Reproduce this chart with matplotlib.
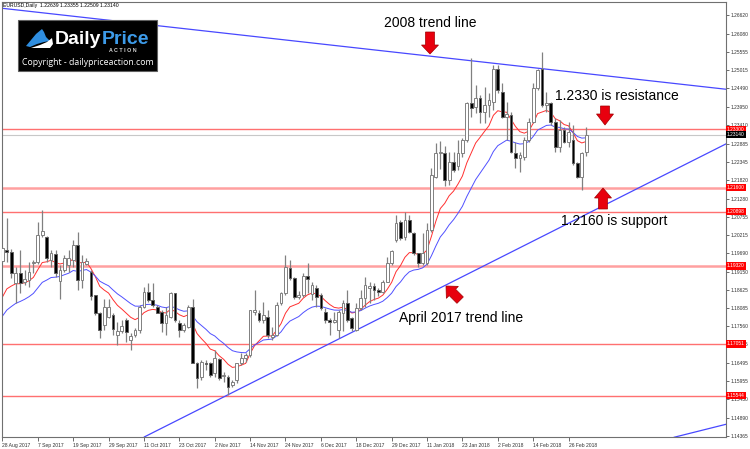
import numpy as np
import matplotlib.pyplot as plt
import matplotlib.transforms as mtrans
from matplotlib.patches import Polygon, Rectangle

# EURUSD daily, 28 Aug 2017 .. 2 Mar 2018 (one entry per bar)
opens = [1.1947, 1.1978, 1.1972, 1.1881, 1.1910, 1.1884, 1.1891, 1.1941, 1.1944, 1.2022,
         1.2017, 1.1949, 1.1966, 1.1889, 1.1920, 1.1935, 1.1949, 1.1993, 1.1891, 1.1939,
         1.1915, 1.1847, 1.1794, 1.1760, 1.1784, 1.1789, 1.1730, 1.1743, 1.1774, 1.1716,
         1.1731, 1.1745, 1.1813, 1.1857, 1.1833, 1.1813, 1.1799, 1.1765, 1.1784, 1.1852,
         1.1765, 1.1745, 1.1755, 1.1813, 1.1648, 1.1609, 1.1650, 1.1648, 1.1619, 1.1660,
         1.1611, 1.1609, 1.1585, 1.1600, 1.1648, 1.1663, 1.1672, 1.1799, 1.1794, 1.1774,
         1.1784, 1.1724, 1.1731, 1.1823, 1.1852, 1.1925, 1.1896, 1.1842, 1.1846, 1.1904,
         1.1850, 1.1867, 1.1847, 1.1799, 1.1774, 1.1770, 1.1745, 1.1794, 1.1823, 1.1779,
         1.1745, 1.1808, 1.1838, 1.1867, 1.1874, 1.1862, 1.1857, 1.1886, 1.1940, 1.2008,
         1.2061, 1.2017, 1.2066, 1.2027, 1.1969, 1.1940, 1.1940, 1.2037, 1.2192, 1.2262,
         1.2260, 1.2182, 1.2236, 1.2222, 1.2260, 1.2299, 1.2406, 1.2396, 1.2420, 1.2381,
         1.2401, 1.2410, 1.2507, 1.2440, 1.2367, 1.2372, 1.2260, 1.2245, 1.2250, 1.2299,
         1.2352, 1.2449, 1.2507, 1.2401, 1.2406, 1.2352, 1.2279, 1.2328, 1.2294, 1.2299,
         1.2231, 1.2192, 1.22639]
highs = [1.1988, 1.2071, 1.1981, 1.1930, 1.1978, 1.1920, 1.1944, 1.1949, 1.2061, 1.2095,
         1.2020, 1.1978, 1.1978, 1.1935, 1.1964, 1.1978, 1.2007, 1.2032, 1.1964, 1.1954,
         1.1920, 1.1847, 1.1799, 1.1837, 1.1837, 1.1794, 1.1770, 1.1774, 1.1779, 1.1736,
         1.1750, 1.1818, 1.1872, 1.1881, 1.1881, 1.1818, 1.1804, 1.1813, 1.1857, 1.1852,
         1.1774, 1.1765, 1.1818, 1.1837, 1.1653, 1.1658, 1.1658, 1.1653, 1.1687, 1.1663,
         1.1624, 1.1614, 1.1600, 1.1648, 1.1677, 1.1677, 1.1804, 1.1862, 1.1804, 1.1828,
         1.1804, 1.1755, 1.1828, 1.1857, 1.1964, 1.1949, 1.1901, 1.1860, 1.1910, 1.1940,
         1.1886, 1.1876, 1.1852, 1.1808, 1.1779, 1.1799, 1.1804, 1.1833, 1.1862, 1.1784,
         1.1823, 1.1862, 1.1901, 1.1886, 1.1881, 1.1867, 1.1891, 1.1959, 1.1979, 1.2080,
         1.2066, 1.2090, 1.2080, 1.2032, 1.1969, 1.2027, 1.2056, 1.2216, 1.2289, 1.2296,
         1.2282, 1.2265, 1.2265, 1.2299, 1.2304, 1.2410, 1.2537, 1.2459, 1.2430, 1.2454,
         1.2435, 1.2517, 1.2517, 1.2464, 1.2410, 1.2381, 1.2294, 1.2265, 1.2308, 1.2362,
         1.2464, 1.2507, 1.2556, 1.2440, 1.2410, 1.2362, 1.2357, 1.2338, 1.2352, 1.2342,
         1.2236, 1.2265, 1.23355]
lows = [1.1942, 1.1944, 1.1896, 1.1823, 1.1852, 1.1876, 1.1871, 1.1910, 1.1939, 1.2017,
        1.1944, 1.1930, 1.1901, 1.1837, 1.1915, 1.1915, 1.1930, 1.1862, 1.1867, 1.1935,
        1.1833, 1.1789, 1.1721, 1.1745, 1.1779, 1.1731, 1.1702, 1.1736, 1.1711, 1.1687,
        1.1726, 1.1736, 1.1808, 1.1828, 1.1813, 1.1794, 1.1740, 1.1731, 1.1779, 1.1770,
        1.1726, 1.1740, 1.1750, 1.1648, 1.1575, 1.1600, 1.1629, 1.1609, 1.1609, 1.1600,
        1.1595, 1.1556, 1.1580, 1.1590, 1.1643, 1.1653, 1.1667, 1.1789, 1.1770, 1.1765,
        1.1721, 1.1716, 1.1728, 1.1818, 1.1847, 1.1891, 1.1837, 1.1835, 1.1840, 1.1852,
        1.1833, 1.1813, 1.1804, 1.1765, 1.1731, 1.1765, 1.1721, 1.1741, 1.1770, 1.1741,
        1.1741, 1.1804, 1.1813, 1.1823, 1.1833, 1.1845, 1.1852, 1.1886, 1.1935, 1.2003,
        1.2008, 1.2008, 1.2027, 1.1964, 1.1930, 1.1935, 1.1935, 1.2032, 1.2187, 1.2213,
        1.2166, 1.2168, 1.2206, 1.2211, 1.2250, 1.2294, 1.2367, 1.2376, 1.2347, 1.2347,
        1.2367, 1.2386, 1.2435, 1.2362, 1.2299, 1.2260, 1.2216, 1.2206, 1.2240, 1.2294,
        1.2347, 1.2444, 1.2396, 1.2381, 1.2342, 1.2265, 1.2265, 1.2289, 1.2279, 1.2226,
        1.2187, 1.2153, 1.22509]
closes = [1.1983, 1.1972, 1.1910, 1.1910, 1.1881, 1.1894, 1.1915, 1.1944, 1.2022, 1.2035,
          1.1954, 1.1969, 1.1910, 1.1920, 1.1954, 1.1954, 1.1993, 1.1891, 1.1944, 1.1947,
          1.1844, 1.1794, 1.1745, 1.1813, 1.1813, 1.1747, 1.1743, 1.1757, 1.1740, 1.1729,
          1.1745, 1.1813, 1.1857, 1.1833, 1.1818, 1.1794, 1.1765, 1.1789, 1.1852, 1.1774,
          1.1745, 1.1760, 1.1813, 1.1648, 1.1605, 1.1653, 1.1646, 1.1614, 1.1663, 1.1605,
          1.1614, 1.1580, 1.1595, 1.1648, 1.1663, 1.1672, 1.1804, 1.1804, 1.1774, 1.1789,
          1.1731, 1.1731, 1.1818, 1.1852, 1.1930, 1.1896, 1.1842, 1.1846, 1.1904, 1.1893,
          1.1876, 1.1842, 1.1808, 1.1774, 1.1770, 1.1774, 1.1799, 1.1823, 1.1774, 1.1750,
          1.1808, 1.1838, 1.1876, 1.1874, 1.1862, 1.1857, 1.1886, 1.1940, 1.1975, 1.2056,
          1.2012, 1.2066, 1.2032, 1.1969, 1.1940, 1.1969, 1.2037, 1.2197, 1.2260, 1.2265,
          1.2182, 1.2236, 1.2211, 1.2262, 1.2299, 1.2406, 1.2391, 1.2420, 1.2381, 1.2401,
          1.2415, 1.2507, 1.2444, 1.2367, 1.2374, 1.2265, 1.2245, 1.2255, 1.2299, 1.2352,
          1.2449, 1.2503, 1.2401, 1.2406, 1.2352, 1.2279, 1.2328, 1.2294, 1.2323, 1.2231,
          1.2192, 1.2260, 1.23140]

date_bars = [0, 8, 16, 24, 32, 40, 48, 56, 64, 72, 80, 88, 96, 104, 112, 120, 128]
date_labels = ['28 Aug 2017', '7 Sep 2017', '19 Sep 2017', '29 Sep 2017', '11 Oct 2017',
               '23 Oct 2017', '2 Nov 2017', '14 Nov 2017', '24 Nov 2017', '6 Dec 2017',
               '18 Dec 2017', '29 Dec 2017', '11 Jan 2018', '23 Jan 2018', '2 Feb 2018',
               '14 Feb 2018', '26 Feb 2018']
price_ticks = [1.26620, 1.26080, 1.25555, 1.25015, 1.24490, 1.23950, 1.23410, 1.22885,
               1.22345, 1.21820, 1.21280, 1.20755, 1.20215, 1.19690, 1.19150, 1.18625,
               1.18085, 1.17560, 1.17035, 1.16495, 1.15955, 1.15430, 1.14890, 1.14365]
levels = [1.23300, 1.21600, 1.20898, 1.19320, 1.17051, 1.15544]
last_price = 1.23140

# moving averages (EMA of close), values just before the first bar
ema_fast_period, ema_fast_seed = 10, 1.1810
ema_slow_period, ema_slow_seed = 20, 1.1765

# trend lines: (bar positions, prices)
trend_2008 = ([-0.5, 164.0], [1.2683, 1.2446])
trend_april = ([32.1, 164.0], [1.1434, 1.2290])
trend_bottom = ([151.9, 164.0], [1.1433, 1.1472])


def ema(values, period, seed):
    k = 2.0 / (period + 1)
    out = []
    prev = seed
    for v in values:
        prev = prev + k * (v - prev)
        out.append(prev)
    return out


W, H = 750, 449
plt.rcParams['font.family'] = 'Liberation Sans'
fig = plt.figure(figsize=(W / 100, H / 100), dpi=100)
ax = fig.add_axes([2 / W, 1 - 437.3 / H, 724 / W, 435.3 / H])

n = len(closes)
x = np.arange(n)
o = np.array(opens); c = np.array(closes)
hi = np.array(highs); lo = np.array(lows)

ax.set_xlim(-0.1, 163.6)
ax.set_ylim(1.14328, 1.27007)

# horizontal levels (two of them drawn wider and paler, as on the chart)
level_lw = [1.0, 1.8, 1.0, 1.8, 1.0, 1.0]
level_col = ['#ff7070', '#ffa0a0', '#ff7070', '#ffa0a0', '#ff7070', '#ff7070']
for lv, lw, col in zip(levels, level_lw, level_col):
    ax.axhline(lv, color=col, lw=lw, zorder=1)
ax.axhline(last_price, color='#c8c8c8', lw=0.8, zorder=1)

# trend lines
for tl in (trend_2008, trend_april, trend_bottom):
    ax.plot(tl[0], tl[1], color='#4848ff', lw=0.9, zorder=2)

# moving averages
ax.plot(x, ema(closes, ema_fast_period, ema_fast_seed), color='#ff3030', lw=0.7, zorder=2)
ax.plot(x, ema(closes, ema_slow_period, ema_slow_seed), color='#5050ff', lw=0.7, zorder=2)

# candles
ax.vlines(x, lo, hi, color='#808080', lw=0.9, zorder=3)
up = c >= o
body = np.maximum(np.abs(c - o), 0.00008)
bottom = np.minimum(o, c)
ax.bar(x[up], body[up], bottom=bottom[up], width=0.62, color='white',
       edgecolor='#808080', linewidth=0.7, zorder=4)
ax.bar(x[~up], body[~up], bottom=bottom[~up], width=0.62, color='black',
       edgecolor='#606060', linewidth=0.7, zorder=4)

# axes styling
for s in ax.spines.values():
    s.set_color('#707070')
    s.set_linewidth(0.8)
ax.yaxis.tick_right()
ax.set_yticks(price_ticks)
ax.set_yticklabels(['%.5f' % p for p in price_ticks])
ax.set_xticks(date_bars)
ax.set_xticklabels(date_labels, ha='left')
ax.tick_params(axis='y', length=2, width=0.5, pad=1.0, labelsize=3.5, colors='#303030')
ax.tick_params(axis='x', length=3, width=0.5, pad=1.2, labelsize=3.6, colors='#303030')

# price tags on the right axis
tag_tr = mtrans.blended_transform_factory(ax.transAxes, ax.transData)
for lv in levels:
    ax.text(1.0015, lv, '%.5f' % lv, transform=tag_tr, fontsize=3.5, color='white',
            va='center', ha='left', zorder=10, clip_on=False,
            bbox=dict(boxstyle='square,pad=0.25', fc='#ff0000', ec='none'))
ax.text(1.0015, last_price, '%.5f' % last_price, transform=tag_tr, fontsize=3.5,
        color='white', va='center', ha='left', zorder=10, clip_on=False,
        bbox=dict(boxstyle='square,pad=0.25', fc='black', ec='none'))

# header
fig.text(3 / W, 1 - 6 / H, 'EURUSD,Daily  1.22639 1.23355 1.22509 1.23140',
         fontsize=3.7, va='center', ha='left', color='black')

# annotations (pixel positions, top-left origin)
pix = mtrans.Affine2D().scale(1, -1).translate(0, H)


def ptext(px, py, s, **kw):
    fig.text(px / W, 1 - py / H, s, **kw)


ptext(430, 23, '2008 trend line', fontsize=10, ha='center', va='center')
ptext(617, 96, '1.2330 is resistance', fontsize=10, ha='center', va='center')
ptext(614, 221, '1.2160 is support', fontsize=10, ha='center', va='center')
ptext(461, 318, 'April 2017 trend line', fontsize=10, ha='center', va='center')


def arrow(tx, ty, ang, shaft_len=13, shaft_w=9, head_len=9, head_w=17):
    # arrow with tip at (tx, ty), pointing along angle ang (degrees, y down)
    pts = np.array([[0, 0], [-head_len, head_w / 2], [-head_len, shaft_w / 2],
                    [-head_len - shaft_len, shaft_w / 2], [-head_len - shaft_len, -shaft_w / 2],
                    [-head_len, -shaft_w / 2], [-head_len, -head_w / 2]])
    a = np.deg2rad(ang)
    rot = np.array([[np.cos(a), -np.sin(a)], [np.sin(a), np.cos(a)]])
    pts = pts @ rot.T + [tx, ty]
    fig.add_artist(Polygon(pts, closed=True, fc='#e8000e', ec='#a00000', lw=0.5,
                           transform=pix))


arrow(430, 54, 90)
arrow(605, 125, 90, shaft_len=8, head_len=11)
arrow(603, 188, -90, shaft_len=11, head_len=10)
arrow(446, 286, -135, shaft_len=11, head_len=9)

# logo
fig.add_artist(Rectangle((18.3, 20), 139, 50.7, fc='black', ec='#606060', lw=0.8,
                         transform=pix))
fig.add_artist(Polygon([(26, 46), (31, 40), (36, 34), (42, 29), (44, 32), (46, 37),
                        (50, 41), (44, 42), (37, 44), (30, 47)],
                       closed=True, fc='#2f8ee0', ec='none', transform=pix))
fig.add_artist(Polygon([(31, 48), (40, 45), (47, 42), (52, 38), (53, 44), (50, 48)],
                       closed=True, fc='white', ec='none', transform=pix))
ptext(55, 40, 'Daily', fontsize=14, fontweight='bold', color='white', va='center')
ptext(102, 40, 'Price', fontsize=14, fontweight='bold', color='#3d9be9', va='center')
ptext(123, 50, 'A C T I O N', fontsize=3.8, fontweight='bold', color='#d8d8d8',
      va='center', ha='center')
ptext(88, 62.5, 'Copyright - dailypriceaction.com', fontsize=6.3, color='white',
      va='center', ha='center', family='Open Sans')

fig.savefig('out.png', dpi=100)
